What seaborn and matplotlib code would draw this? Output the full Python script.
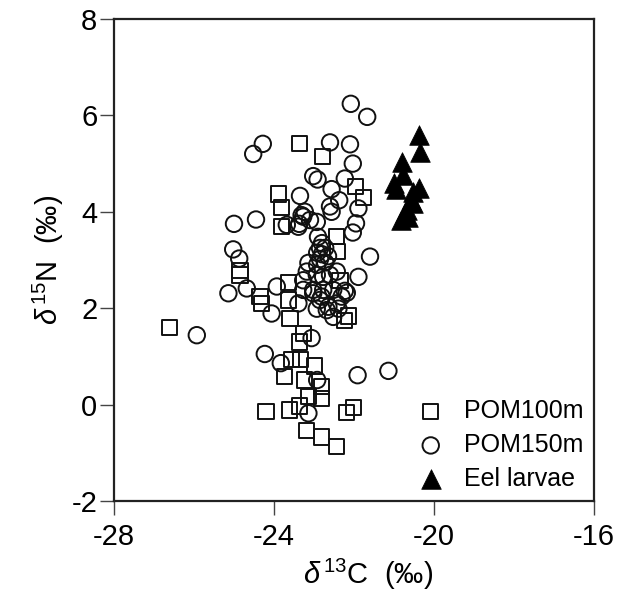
import numpy as np
import pandas as pd
import matplotlib
matplotlib.use("Agg")
import matplotlib.pyplot as plt
import seaborn as sns

# ---- data ----
pom100_c = [-23.37, -22.78, -23.89, -23.81, -23.81, -24.85, -24.85, -23.64, -24.35, -21.96,
            -21.77, -22.43, -22.42, -22.35, -26.62, -24.31, -23.64, -23.60, -23.27, -23.37,
            -23.56, -23.33, -22.98, -23.73, -23.23, -22.81, -23.14, -22.81, -24.20, -23.62,
            -23.37, -23.18, -22.81, -22.43, -22.14, -22.23, -22.18, -22.02]
pom100_n = [5.41, 5.14, 4.37, 4.09, 3.69, 2.79, 2.69, 2.53, 2.24, 4.53,
            4.30, 3.48, 3.17, 2.58, 1.60, 2.10, 2.17, 1.79, 1.48, 1.30,
            0.93, 0.93, 0.80, 0.58, 0.51, 0.37, 0.16, 0.13, -0.15, -0.11,
            -0.03, -0.53, -0.67, -0.87, 1.84, 1.74, -0.17, -0.06]

pom150_c = [-24.28, -24.52, -22.60, -23.02, -22.91, -22.56, -23.35, -22.60, -22.56, -23.23,
            -23.27, -23.10, -22.93, -23.68, -23.37, -25.00, -24.45, -25.02, -24.87, -23.14,
            -24.68, -25.14, -23.93, -22.08, -21.67, -22.10, -22.03, -22.23, -22.37, -21.89,
            -21.95, -22.03, -21.60, -21.89, -22.23, -25.93, -24.06, -23.39, -23.06, -24.23,
            -23.83, -22.92, -23.14, -23.02, -22.85, -22.68, -22.52, -21.91, -21.14, -22.18,
            -22.90, -22.80, -22.85, -22.72, -22.92, -22.80, -22.65, -22.85, -22.72, -22.92,
            -23.18, -23.27, -22.93, -22.77, -22.60, -22.43, -23.27, -23.02, -22.77, -22.52,
            -22.81, -22.43, -22.31, -22.93, -22.64, -22.39, -23.31, -23.39]
pom150_n = [5.41, 5.20, 5.44, 4.74, 4.67, 4.47, 4.33, 4.11, 4.00, 4.00,
            3.90, 3.83, 3.79, 3.73, 3.75, 3.75, 3.84, 3.22, 3.03, 2.94,
            2.41, 2.31, 2.45, 6.24, 5.97, 5.40, 5.00, 4.69, 4.24, 4.07,
            3.76, 3.57, 3.07, 2.65, 2.36, 1.44, 1.89, 2.10, 1.38, 1.05,
            0.86, 0.51, -0.18, 2.31, 2.17, 1.96, 1.82, 0.61, 0.70, 2.32,
            3.48, 3.35, 3.25, 3.25, 3.15, 3.12, 3.08, 3.02, 2.95, 2.90,
            2.76, 2.58, 2.69, 2.65, 2.69, 2.76, 2.38, 2.38, 2.38, 2.38,
            2.24, 2.10, 2.24, 1.99, 2.03, 1.99, 3.93, 3.69]

eel_c = [-20.37, -20.35, -20.81, -20.77, -21.00, -20.95, -20.37, -20.53, -20.58, -20.52,
         -20.68, -20.64, -20.83, -20.73]
eel_n = [5.59, 5.25, 5.04, 4.76, 4.59, 4.47, 4.49, 4.42, 4.24, 4.18,
         4.04, 3.90, 3.83, 3.98]

groups = ["POM100m", "POM150m", "Eel larvae"]
x_ticks = [-28, -24, -20, -16]
y_ticks = [-2, 0, 2, 4, 6, 8]

df = pd.DataFrame({
    "d13C": pom100_c + pom150_c + eel_c,
    "d15N": pom100_n + pom150_n + eel_n,
    "group": [groups[0]] * len(pom100_c) + [groups[1]] * len(pom150_c) + [groups[2]] * len(eel_c),
})

sns.set_style("ticks")
plt.rcParams["font.family"] = ["Liberation Sans", "DejaVu Sans"]
plt.rcParams["mathtext.fontset"] = "custom"
plt.rcParams["mathtext.rm"] = "Liberation Sans"
plt.rcParams["mathtext.it"] = "Liberation Sans:italic"
plt.rcParams["axes.unicode_minus"] = False
plt.rcParams["text.color"] = "black"
plt.rcParams["axes.labelcolor"] = "black"
plt.rcParams["xtick.labelcolor"] = "black"
plt.rcParams["ytick.labelcolor"] = "black"

fig = plt.figure(figsize=(6.23, 5.95), dpi=100)
ax = fig.add_axes([114 / 623, 1 - 501 / 595, 480 / 623, 482 / 595])

styles = {
    "POM100m": dict(marker="s", s=120, facecolor="none", edgecolor="#111111", linewidth=1.4),
    "POM150m": dict(marker="o", s=140, facecolor="none", edgecolor="#111111", linewidth=1.4),
    "Eel larvae": dict(marker="^", s=200, color="black", edgecolor="black", linewidth=0.5),
}
for g in groups:
    sub = df[df["group"] == g]
    sns.scatterplot(data=sub, x="d13C", y="d15N", ax=ax, label=g, **styles[g])

ax.set_xlim(-28, -16)
ax.set_ylim(-2, 8)
ax.set_xticks(x_ticks)
ax.set_yticks(y_ticks)
ax.tick_params(axis="both", labelsize=21, length=10, width=1.0, color="#444444")
ax.tick_params(axis="x", pad=6)
ax.tick_params(axis="y", pad=2)
for sp in ax.spines.values():
    sp.set_linewidth(1.6)
    sp.set_color("#222222")

ax.set_xlabel(r"$\delta\,^{13}$C  (‰)", fontsize=21, labelpad=2)
ax.set_ylabel(r"$\delta\,^{15}$N  (‰)", fontsize=21, labelpad=4)
ax.xaxis.set_label_coords(0.53, -0.115)

leg = ax.legend(loc="lower right", frameon=False, fontsize=18, labelspacing=0.4,
                handletextpad=0.85, borderaxespad=0.0, borderpad=0.4, handlelength=1.0,
                bbox_to_anchor=(1.0, 0.0))

fig.savefig("out.png", dpi=100)
